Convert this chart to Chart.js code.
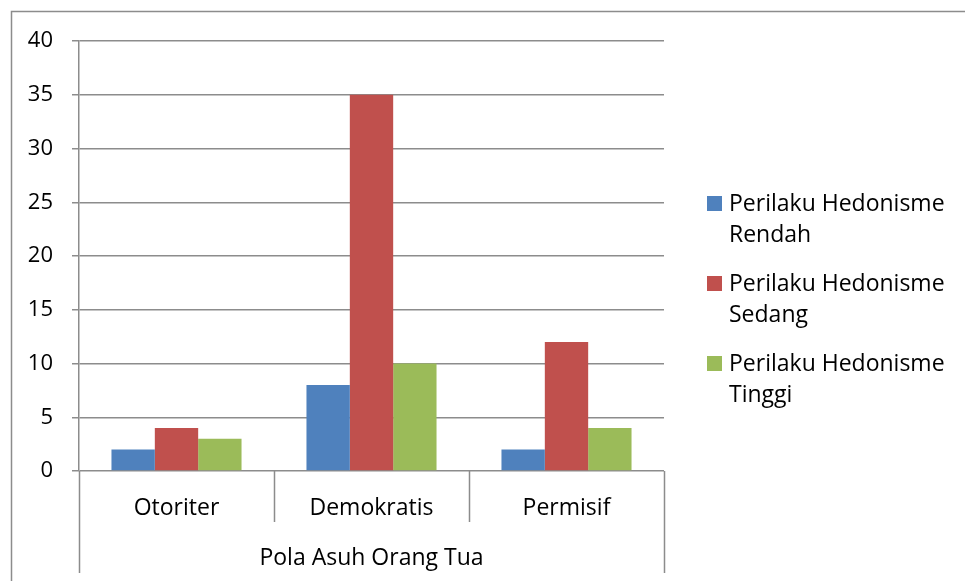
<!DOCTYPE html>
<html>
<head>
<meta charset="utf-8">
<script src="https://cdn.jsdelivr.net/npm/chart.js@4/dist/chart.umd.min.js"></script>
<style>
html,body{margin:0;padding:0;background:#fff;}
canvas{display:block;}
</style>
</head>
<body>
<canvas id="c" width="965" height="581"></canvas>
<script>
const categories = ['Otoriter', 'Demokratis', 'Permisif'];
const seriesNames = ['Perilaku Hedonisme Rendah', 'Perilaku Hedonisme Sedang', 'Perilaku Hedonisme Tinggi'];
const rendah = [2, 8, 2];
const sedang = [4, 35, 12];
const tinggi = [3, 10, 4];
const seriesColors = ['#4F81BD', '#C0504D', '#9BBB59'];
const yMin = 0, yMax = 40, yStep = 5;
const axisTitle = 'Pola Asuh Orang Tua';

const FONT = '"Open Sans"';
const FSIZE = 23;
const TSIZE = 22;
const GRID = '#8c8c8c';

const decor = {
  id: 'decor',
  afterDraw(chart) {
    const ctx = chart.ctx;
    const ca = chart.chartArea;
    const xs = chart.scales.x;
    ctx.save();
    ctx.strokeStyle = GRID;
    ctx.lineWidth = 1.5;
    ctx.strokeRect(11.5, 11.5, 2000, 2000);
    const n = categories.length;
    const w = (ca.right - ca.left) / n;
    ctx.beginPath();
    for (let i = 0; i <= n; i++) {
      const x = Math.round(ca.left + i * w) + 0.5;
      const outer = (i === 0 || i === n);
      ctx.moveTo(x, ca.bottom);
      ctx.lineTo(x, outer ? ca.bottom + 102 : ca.bottom + 51);
    }
    ctx.stroke();
    ctx.fillStyle = '#000';
    ctx.font = FSIZE + 'px ' + FONT;
    ctx.textAlign = 'center';
    ctx.textBaseline = 'middle';
    categories.forEach((c, i) => {
      ctx.fillText(c, xs.getPixelForValue(i), ca.bottom + 37);
    });
    ctx.fillText(axisTitle, (ca.left + ca.right) / 2, ca.bottom + 87);
    const lx = 707, tx = 729, maxW = 965 - tx - 4;
    const starts = [204, 284, 364];
    ctx.textAlign = 'left';
    chart.data.datasets.forEach((ds, i) => {
      const words = ds.label.split(' ');
      const lines = [];
      let cur = '';
      words.forEach(wd => {
        const t = cur ? cur + ' ' + wd : wd;
        if (ctx.measureText(t).width > maxW && cur) { lines.push(cur); cur = wd; }
        else cur = t;
      });
      if (cur) lines.push(cur);
      const y0 = starts[i];
      ctx.fillStyle = ds.backgroundColor;
      ctx.fillRect(lx, y0 - 8, 15, 15);
      ctx.fillStyle = '#000';
      lines.forEach((ln, k) => ctx.fillText(ln, tx, y0 + k * 31));
    });
    ctx.restore();
  }
};

new Chart(document.getElementById('c'), {
  type: 'bar',
  data: {
    labels: categories,
    datasets: [
      { label: seriesNames[0], data: rendah, backgroundColor: seriesColors[0] },
      { label: seriesNames[1], data: sedang, backgroundColor: seriesColors[1] },
      { label: seriesNames[2], data: tinggi, backgroundColor: seriesColors[2] }
    ]
  },
  options: {
    responsive: false,
    animation: false,
    layout: { padding: { top: 41, right: 301, bottom: 110, left: 0 } },
    datasets: { bar: { categoryPercentage: 0.667, barPercentage: 1.0, borderWidth: 0 } },
    plugins: { legend: { display: false }, tooltip: { enabled: false } },
    scales: {
      x: { display: false },
      y: {
        min: yMin, max: yMax,
        afterFit(s) { s.width = 79; },
        ticks: { stepSize: yStep, padding: 19, color: '#000', font: { family: 'Open Sans', size: TSIZE } },
        grid: { color: GRID, lineWidth: 1.5, tickLength: 7, drawTicks: true },
        border: { color: GRID, width: 1.5 }
      }
    }
  },
  plugins: [decor]
});
</script>
</body>
</html>
